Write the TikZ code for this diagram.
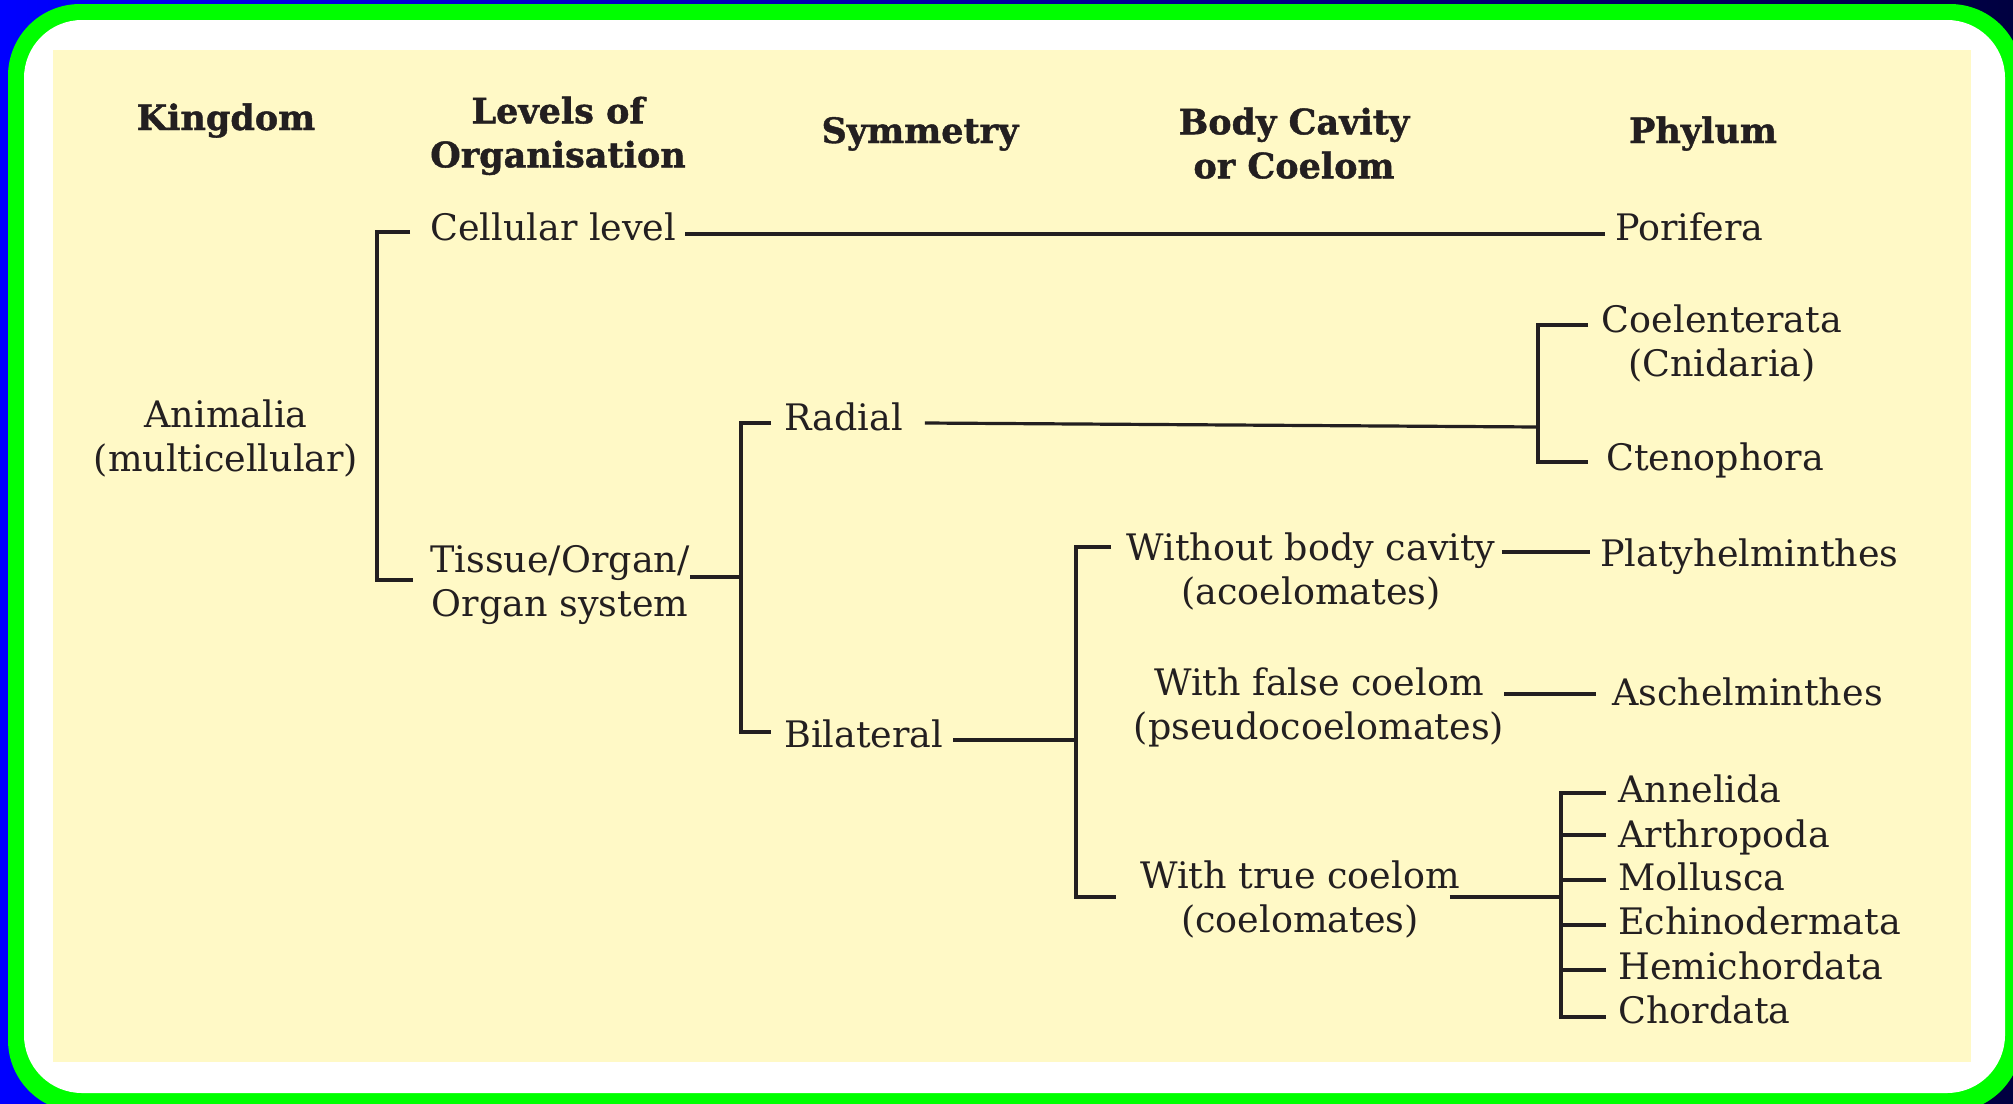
\documentclass[tikz,border=0pt]{standalone}
\usepackage{fontspec}
\setmainfont{DejaVu Serif}
\newfontfamily\hdrfont{DejaVu Serif}[BoldFeatures={FakeBold=1.2}]
\usetikzlibrary{calc}
\definecolor{ink}{RGB}{35,31,32}
\definecolor{paper}{RGB}{255,249,198}
\definecolor{framegreen}{RGB}{0,255,0}
\definecolor{bgleft}{RGB}{0,0,255}
\definecolor{bgright}{RGB}{0,0,64}
\begin{document}
\begin{tikzpicture}[x=1pt,y=-1pt,
  hdr/.style={font=\hdrfont\bfseries\fontsize{35}{44}\selectfont, text=ink, align=center, inner sep=0pt},
  lbl/.style={font=\fontsize{36.5}{44}\selectfont, text=ink, inner sep=0pt},
  two/.style={lbl, align=center, anchor=north},
  conn/.style={draw=ink, line width=3.2pt, line join=miter}]
% frame
\useasboundingbox (0,0) rectangle (2013,1103);
\shade[left color=bgleft, right color=bgright] (0,0) rectangle (2013,1103);
\fill[framegreen, rounded corners=72pt] (8,4) rectangle (2022,1112);
\fill[white, rounded corners=58pt] (24,20) rectangle (2005,1093);
\fill[paper] (53,50) rectangle (1971,1062);
% headers
\node[hdr, anchor=base] (hking) at (226,130) {Kingdom};
\node[hdr, anchor=north] (hlev) at (558,123-26.5) {Levels of\\Organisation};
\node[hdr, anchor=base] (hsym) at (920,143) {Symmetry};
\node[hdr, anchor=north] (hbody) at (1294,134-26.5) {Body Cavity\\or Coelom};
\node[hdr, anchor=base] (hphy) at (1703,143) {Phylum};
% labels
\node[lbl, anchor=base west] (cell) at (430,240) {Cellular level};
\node[lbl, anchor=base west] (pori) at (1615,240) {Porifera};
\node[two] (anim) at (226,427-27.7) {Animalia\\(multicellular)};
\node[two] (tiss) at (560,573-27.7) {Tissue/Organ/\\Organ system};
\node[lbl, anchor=base west] (rad) at (784,430) {Radial};
\node[lbl, anchor=base west] (bil) at (784,747) {Bilateral};
\node[two] (coel) at (1722,332-27.7) {Coelenterata\\(Cnidaria)};
\node[lbl, anchor=base west] (cten) at (1606,470) {Ctenophora};
\node[two] (acoel) at (1311,560-27.7) {Without body cavity\\(acoelomates)};
\node[lbl, anchor=base west] (platy) at (1600,566) {Platyhelminthes};
\node[two] (pseudo) at (1319,695-27.7) {With false coelom\\(pseudocoelomates)};
\node[lbl, anchor=base west] (asch) at (1612,705) {Aschelminthes};
\node[two] (truec) at (1300,888-27.7) {With true coelom\\(coelomates)};
\node[lbl, anchor=base west] (anne) at (1618,802) {Annelida};
\node[lbl, anchor=base west] (arth) at (1618,847) {Arthropoda};
\node[lbl, anchor=base west] (moll) at (1618,890) {Mollusca};
\node[lbl, anchor=base west] (echi) at (1618,934) {Echinodermata};
\node[lbl, anchor=base west] (hemi) at (1618,979) {Hemichordata};
\node[lbl, anchor=base west] (chor) at (1618,1023) {Chordata};
% bracket coordinates
\coordinate (kx) at (377,406);
\coordinate (k1) at (410,232);
\coordinate (k2) at (413,580);
\coordinate (sj) at (741,577);
\coordinate (s1) at (771,423);
\coordinate (s2) at (771,732);
\coordinate (rj) at (1538,427);
\coordinate (r1) at (1588,325);
\coordinate (r2) at (1588,462);
\coordinate (bj) at (1076,740);
\coordinate (b1) at (1111,547);
\coordinate (b2) at (1116,897);
\coordinate (tj) at (1561,897);
% connectors
\draw[conn] (k1) -| (kx) |- (k2);
\draw[conn] ([xshift=9pt,yshift=6pt]cell.base east) -- ([xshift=-10pt,yshift=6pt]pori.base west);
\draw[conn] (s1) -| (sj) |- (s2);
\draw[conn] (sj) -- (sj -| tiss.east);
\draw[conn] (r1) -| (rj) |- (r2);
\draw[conn] ([xshift=22pt,yshift=7pt]rad.base east) -- (rj);
\draw[conn] (b1) -| (bj) |- (b2);
\draw[conn] ([xshift=10pt,yshift=7pt]bil.base east) -- (bj);
\draw[conn] ([xshift=6pt,yshift=-19.7pt]acoel.north east) -- ([xshift=-10pt,yshift=14pt]platy.base west);
\draw[conn] ([yshift=-26.7pt]pseudo.north east) -- ([xshift=-16pt,yshift=11pt]asch.base west);
\draw[conn] ([xshift=-10pt,yshift=-36.7pt]truec.north east) -- (tj);
\draw[conn] ([xshift=-12pt,yshift=9pt]anne.base west) -| (tj) |- ([xshift=-12pt,yshift=6pt]chor.base west);
\draw[conn] ([xshift=-12pt,yshift=12pt]arth.base west) coordinate (pa) -- (pa -| tj);
\draw[conn] ([xshift=-12pt,yshift=10pt]moll.base west) coordinate (pm) -- (pm -| tj);
\draw[conn] ([xshift=-12pt,yshift=9pt]echi.base west) coordinate (pe) -- (pe -| tj);
\draw[conn] ([xshift=-12pt,yshift=9pt]hemi.base west) coordinate (ph) -- (ph -| tj);
\end{tikzpicture}
\end{document}
